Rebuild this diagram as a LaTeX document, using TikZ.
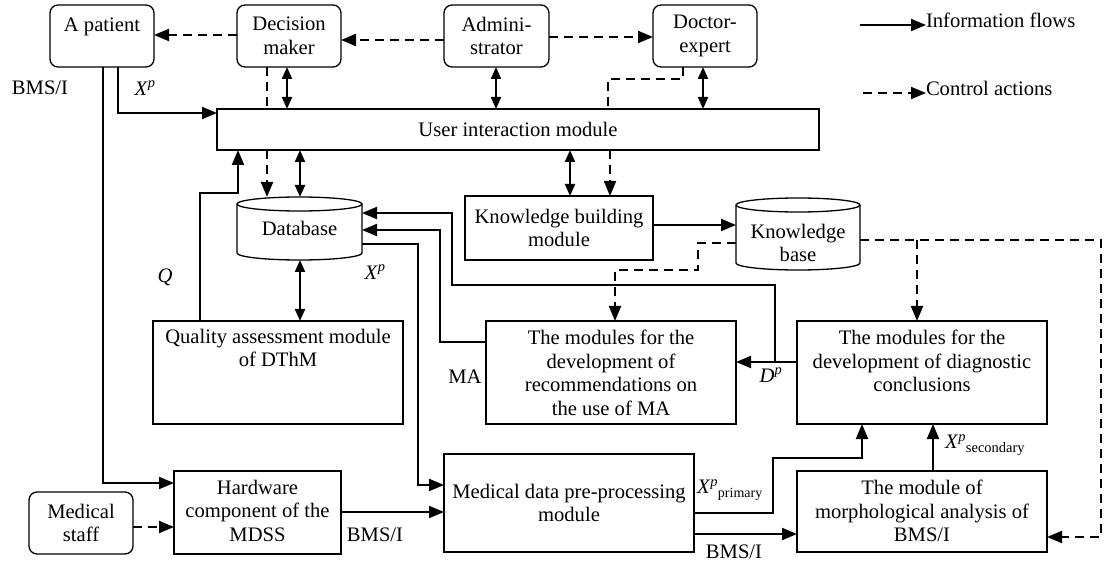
\documentclass[tikz,border=0pt]{standalone}
\usepackage{fontspec}
\setmainfont{Liberation Serif}
\usetikzlibrary{arrows.meta}
\newcommand{\XpLbl}{\textit{X}\textsuperscript{\textit{p}}}
\tikzset{
  every node/.style={font=\fontsize{20.6}{23.5}\selectfont, inner sep=0pt, outer sep=0pt},
  box/.style={draw, line width=1.3pt, anchor=north west, align=center},
  rbox/.style={box, rounded corners=8pt},
  cyl/.style={line width=1.3pt},
  flow/.style={line width=2pt, -{Triangle[length=15pt,width=12pt]}},
  biflow/.style={line width=2pt, {Triangle[length=12pt,width=10pt]}-{Triangle[length=12pt,width=10pt]}},
  ctrl/.style={line width=2pt, dash pattern=on 9pt off 6pt, -{Triangle[length=15pt,width=12pt]}},
  ctrlline/.style={line width=2pt, dash pattern=on 9pt off 6pt},
  toptext/.style={anchor=north, align=center},
}
\begin{document}
\begin{tikzpicture}[x=1pt,y=1pt]
\useasboundingbox (0,0) rectangle (1104,-564);

% ---------- top row ----------
\node[rbox, minimum width=104pt, minimum height=62pt] (pat) at (50,-5) {};
\node[toptext] (pattxt) at ([yshift=-13pt]pat.north) {A patient};
\node[rbox, minimum width=104pt, minimum height=62pt] (dm) at (237,-5) {Decision\\maker};
\node[rbox, minimum width=105pt, minimum height=62pt] (adm) at (444,-5) {Admini-\\strator};
\node[rbox, minimum width=104pt, minimum height=62pt] (doc) at (653,-5) {Doctor-\\expert};

% ---------- legend ----------
\node[anchor=west] (leg1) at (926,-20) {Information flows};
\node[anchor=west] (leg2) at (926,-88) {Control actions};
\coordinate (lg1s) at (860,-25);
\coordinate (lg2s) at (863,-93);
\draw[flow] (lg1s) -- (lg1s -| leg1.west);
\draw[ctrl] (lg2s) -- (lg2s -| leg2.west);

% ---------- user interaction ----------
\node[box, minimum width=602pt, minimum height=41pt] (uim) at (217,-109) {User interaction module};

% ---------- database ----------
\node[anchor=north west, minimum width=125pt, minimum height=63pt] (db) at (237,-197) {};
\draw[cyl] (237,-204) -- (237,-253) arc[start angle=180, end angle=360, x radius=62.5pt, y radius=7pt] -- (362,-204);
\draw[cyl] (299.5,-204) ellipse [x radius=62.5pt, y radius=7pt];
\node (dbtxt) at (299.5,-228) {Database};

% ---------- knowledge building ----------
\node[box, minimum width=188pt, minimum height=64pt] (kbm) at (465,-196) {Knowledge building\\module};

% ---------- knowledge base ----------
\node[anchor=north west, minimum width=124pt, minimum height=72pt] (kb) at (736,-198) {};
\draw[cyl] (736,-205) -- (736,-263) arc[start angle=180, end angle=360, x radius=62pt, y radius=7pt] -- (860,-205);
\draw[cyl] (798,-205) ellipse [x radius=62pt, y radius=7pt];
\node[align=center] (kbtxt) at (798,-243) {Knowledge\\base};

% ---------- middle row ----------
\node[box, minimum width=250pt, minimum height=103pt] (qual) at (153,-321) {};
\node[toptext] (qualtxt) at ([yshift=-8pt]qual.north) {Quality assessment module\\of DThM};
\node[box, minimum width=250pt, minimum height=103pt] (rec) at (486,-321) {};
\node[toptext] (rectxt) at ([yshift=-9pt]rec.north) {The modules for the\\development of\\recommendations on\\the use of MA};
\node[box, minimum width=250pt, minimum height=103pt] (diag) at (797,-321) {};
\node[toptext] (diagtxt) at ([yshift=-9pt]diag.north) {The modules for the\\development of diagnostic\\conclusions};

% ---------- bottom row ----------
\node[rbox, minimum width=104pt, minimum height=62pt] (ms) at (29,-492) {Medical\\staff};
\node[box, minimum width=167pt, minimum height=83pt] (hw) at (174,-471) {};
\node[toptext] (hwtxt) at ([yshift=-9pt]hw.north) {Hardware\\component of the\\MDSS};
\node[box, minimum width=250pt, minimum height=98pt] (pre) at (444,-454) {Medical data pre-processing\\module};
\node[box, minimum width=250pt, minimum height=81pt] (morph) at (797,-471) {};
\node[toptext] (morphtxt) at ([yshift=-9pt]morph.north) {The module of\\morphological analysis of\\BMS/I};

% ---------- labels ----------
\node (lblbms1) at (40,-88) {BMS/I};
\node (lblxp1) at (145,-88) {\XpLbl};
\node (lblq) at (165,-277) {\textit{Q}};
\node (lblxp2) at (375,-272) {\XpLbl};
\node (lblma) at (465,-377) {MA};
\node (lbldp) at (771,-375) {\textit{D}\textsuperscript{\textit{p}}};
\node (lblbms2) at (375,-535) {BMS/I};
\node[anchor=west] (lblxpp) at (697,-490) {\XpLbl\raisebox{-4pt}{\fontsize{14}{14}\selectfont primary}};
\node (lblbms3) at (734,-552) {BMS/I};
\node[anchor=west] (lblxps) at (945,-445) {\XpLbl\raisebox{-4pt}{\fontsize{14.5}{14.5}\selectfont secondary}};

% ---------- control actions (dashed) ----------
\draw[ctrl] (dm.west |- 0,-35) -- (pat.east |- 0,-35);
\draw[ctrl] (adm.west |- 0,-40) -- (dm.east |- 0,-40);
\draw[ctrl] (adm.east |- 0,-37) -- (doc.west |- 0,-37);
\draw[ctrlline] (dm.south -| 267,0) -- (uim.north -| 267,0);
\draw[ctrl] (uim.south -| 267,0) -- (db.north -| 267,0);
\draw[ctrlline] (doc.south -| 683,0) -- ++(0,-12) -| (uim.north -| 608,0);
\draw[ctrl] (uim.south -| 610,0) -- (kbm.north -| 610,0);
\draw[ctrl] (kb.west |- 0,-243) -| (698,-270) -| (rec.north -| 615,0);
\draw[ctrl] (kb.east |- 0,-240) -| (1101,-537) -- (morph.east |- 0,-537);
\coordinate (kbbr) at (917,-240);
\draw[ctrl] (kbbr) -- (diag.north -| kbbr);
\draw[ctrl] (ms.east |- 0,-527) -- (hw.west |- 0,-527);

% ---------- information flows ----------
\draw[flow] (pat.south -| 118,0) |- (uim.west |- 0,-113);
\draw[flow] (pat.south -| 103,0) |- (hw.west |- 0,-483);
\draw[biflow] (dm.south -| 287,0) -- (uim.north -| 287,0);
\draw[biflow] (adm.south -| 496,0) -- (uim.north -| 496,0);
\draw[biflow] (doc.south -| 703,0) -- (uim.north -| 703,0);
\draw[biflow] (uim.south -| 300,0) -- (db.north -| 300,0);
\draw[biflow] (uim.south -| 570,0) -- (kbm.north -| 570,0);
\draw[biflow] (db.south -| 300,0) -- (qual.north -| 300,0);
\draw[flow] (kbm.east |- 0,-225) -- (kb.west |- 0,-225);
\draw[flow] (diag.west |- 0,-362) -- (rec.east |- 0,-362);
\coordinate (dpbr) at (775,-362);
\draw[flow] (dpbr) |- (452,-285) |- (db.east |- 0,-213);
\draw[flow] (rec.west |- 0,-342) -| (440,-230) -- (db.east |- 0,-230);
\draw[flow] (db.east |- 0,-244) -| (418,-485) -- (pre.west |- 0,-485);
\draw[flow] (qual.north -| 200,0) |- (238,-193) -- (uim.south -| 238,0);
\draw[flow] (hw.east |- 0,-512) -- (pre.west |- 0,-512);
\draw[flow] (pre.east |- 0,-513) -| (773,-458) -| (diag.south -| 862,0);
\draw[flow] (pre.east |- 0,-534) -- (morph.west |- 0,-534);
\draw[flow] (morph.north -| 933,0) -- (diag.south -| 933,0);
\end{tikzpicture}
\end{document}
